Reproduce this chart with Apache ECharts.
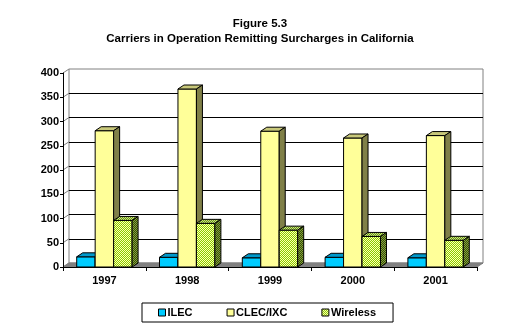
<!DOCTYPE html>
<html>
<head>
<meta charset="utf-8">
<script src="https://cdn.jsdelivr.net/npm/echarts@6/dist/echarts.min.js"></script>
<style>
  html, body { margin: 0; padding: 0; background: #fff; }
  #chart { width: 520px; height: 336px; }
</style>
</head>
<body>
<div id="chart"></div>
<script>
// Carriers remitting surcharges, by year and carrier type
const categories = ['1997', '1998', '1999', '2000', '2001'];
const ilec = [21, 20, 19, 20, 19];
const clecIxc = [281, 367, 280, 266, 271];
const wireless = [96, 90, 76, 63, 55];
const seriesNames = ['ILEC', 'CLEC/IXC', 'Wireless'];
const yMin = 0, yMax = 400, yStep = 50;

// 3-D depth offset of the column tops / side faces and the back wall
const DX = 6, DY = 4;
const FONT = 'Arial, "Liberation Sans", sans-serif';

// fine checker fill used for the wireless columns
function checker(a, b) {
  const n = 8;
  const c = document.createElement('canvas');
  c.width = n; c.height = n;
  const g = c.getContext('2d');
  for (let y = 0; y < n; y++) {
    for (let x = 0; x < n; x++) {
      g.fillStyle = (x + y) % 2 ? a : b;
      g.fillRect(x, y, 1, 1);
    }
  }
  return { image: c, repeat: 'repeat' };
}

const faces = [
  { front: '#00CCFF', top: '#0099CC', side: '#006699' },
  { front: '#FFFF99', top: '#C8C87A', side: '#808048' },
  { front: checker('#88CC00', '#FFFFB0'), top: checker('#669911', '#CCDD88'), side: checker('#335500', '#889944') }
];

function columnRenderer(slot) {
  const f = faces[slot];
  return function (params, api) {
    const xi = api.value(0);
    const v = api.value(1);
    const base = api.coord([xi, 0]);
    const top = api.coord([xi, v]);
    const w = api.size([1, 0])[0] * 0.223;
    const xl = base[0] + (slot - 1.5) * w;
    const xr = xl + w;
    const yt = top[1], yb = base[1];
    const st = { stroke: '#000', lineWidth: 1 };
    return {
      type: 'group',
      children: [
        { type: 'polygon', shape: { points: [[xl, yt], [xr, yt], [xr, yb], [xl, yb]] },
          style: Object.assign({ fill: f.front }, st) },
        { type: 'polygon', shape: { points: [[xl, yt], [xr, yt], [xr + DX, yt - DY], [xl + DX, yt - DY]] },
          style: Object.assign({ fill: f.top }, st) },
        { type: 'polygon', shape: { points: [[xr, yt], [xr + DX, yt - DY], [xr + DX, yb - DY], [xr, yb]] },
          style: Object.assign({ fill: f.side }, st) }
      ]
    };
  };
}

// floor of the box plus the short connectors from the value ticks to the back wall
function floorRenderer(params, api) {
  const cs = params.coordSys;
  const x0 = cs.x, x1 = cs.x + cs.width, yb = cs.y + cs.height;
  const children = [{
    type: 'polygon',
    shape: { points: [[x0, yb], [x1, yb], [x1 + DX, yb - DY], [x0 + DX, yb - DY]] },
    style: { fill: '#808080', stroke: '#808080', lineWidth: 1 }
  }];
  for (let v = yMin; v <= yMax; v += yStep) {
    const y = api.coord([0, v])[1];
    children.push({
      type: 'line',
      shape: { x1: x0, y1: y, x2: x0 + DX, y2: y - DY },
      style: { stroke: '#808080', lineWidth: 1 }
    });
  }
  return { type: 'group', children: children };
}

const toPairs = arr => arr.map((v, i) => [i, v]);
const labelFont = { fontFamily: FONT, fontWeight: 'bold', fontSize: 11, color: '#000' };

const chart = echarts.init(document.getElementById('chart'), null, { renderer: 'canvas' });
chart.setOption({
  animation: false,
  backgroundColor: '#fff',
  title: {
    text: 'Figure 5.3\nCarriers in Operation Remitting Surcharges in California',
    left: 'center',
    top: 12,
    textStyle: { fontFamily: FONT, fontWeight: 'bold', fontSize: 11.5, lineHeight: 14.5, color: '#000', align: 'center' }
  },
  legend: {
    left: 142, top: 303,
    padding: [4, 17, 4, 16],
    borderColor: '#000', borderWidth: 1,
    itemWidth: 7, itemHeight: 7, itemGap: 34,
    textStyle: Object.assign({ padding: [0, 0, 0, -3] }, labelFont),
    data: seriesNames.map((n, i) => ({
      name: n, icon: 'rect',
      itemStyle: { color: faces[i].front, borderColor: '#000', borderWidth: 1 }
    }))
  },
  grid: [
    // front plane: axes and columns
    { left: 63, right: 43, top: 73, bottom: 69 },
    // back wall: gridlines and outline
    { left: 63 + DX, right: 43 - DX, top: 73 - DY, bottom: 69 + DY,
      show: true, borderColor: '#808080', borderWidth: 1, backgroundColor: 'transparent' }
  ],
  xAxis: [
    { type: 'category', gridIndex: 0, data: categories, z: 5,
      axisLine: { lineStyle: { color: '#000', width: 1 } },
      axisTick: { show: true, length: 4, lineStyle: { color: '#000' } },
      axisLabel: Object.assign({ margin: 8 }, labelFont) },
    { type: 'category', gridIndex: 1, data: categories, show: false }
  ],
  yAxis: [
    { type: 'value', gridIndex: 0, min: yMin, max: yMax, interval: yStep, z: 5,
      axisLine: { show: true, lineStyle: { color: '#000', width: 1 } },
      axisTick: { show: true, length: 3, lineStyle: { color: '#000' } },
      splitLine: { show: false },
      axisLabel: Object.assign({ margin: 4 }, labelFont) },
    { type: 'value', gridIndex: 1, min: yMin, max: yMax, interval: yStep,
      axisLine: { show: false }, axisTick: { show: false }, axisLabel: { show: false },
      splitLine: { show: true, showMaxLine: false, lineStyle: { color: '#000', width: 1 } } }
  ],
  series: [
    { type: 'custom', name: '_floor', xAxisIndex: 0, yAxisIndex: 0, z: 1, silent: true,
      renderItem: floorRenderer, data: [[0, 0]] },
    { type: 'custom', name: seriesNames[0], xAxisIndex: 0, yAxisIndex: 0, z: 2,
      renderItem: columnRenderer(0), encode: { x: 0, y: 1 }, data: toPairs(ilec) },
    { type: 'custom', name: seriesNames[1], xAxisIndex: 0, yAxisIndex: 0, z: 2,
      renderItem: columnRenderer(1), encode: { x: 0, y: 1 }, data: toPairs(clecIxc) },
    { type: 'custom', name: seriesNames[2], xAxisIndex: 0, yAxisIndex: 0, z: 2,
      renderItem: columnRenderer(2), encode: { x: 0, y: 1 }, data: toPairs(wireless) }
  ]
});
</script>
</body>
</html>
